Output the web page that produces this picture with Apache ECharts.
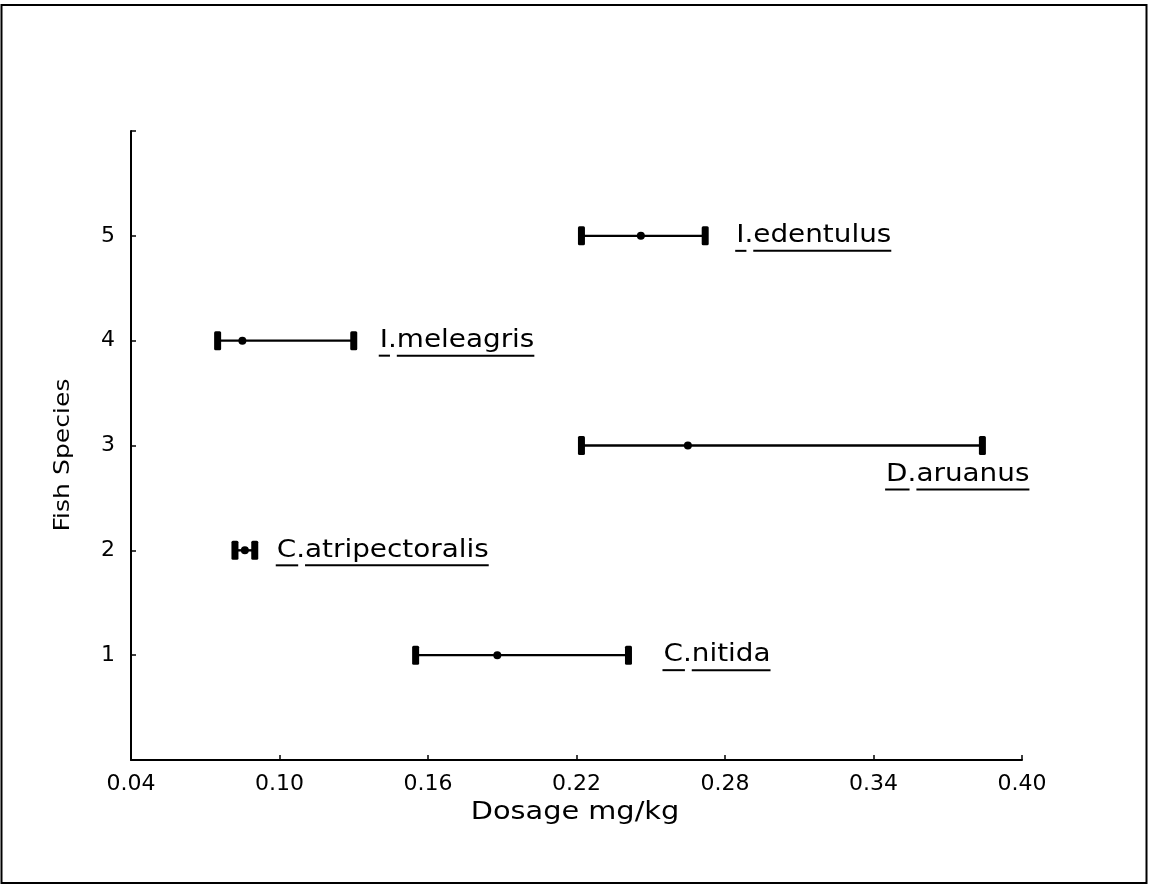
<!DOCTYPE html>
<html>
<head>
<meta charset="utf-8">
<script src="https://cdn.jsdelivr.net/npm/echarts@6/dist/echarts.min.js"></script>
<style>
  html, body { margin: 0; padding: 0; background: #fff; }
  #chart { width: 1149px; height: 889px; }
</style>
</head>
<body>
<div id="chart"></div>
<script>
// Effective dosage ranges per fish species (low, mean, high) in mg/kg
const species    = ['C.nitida', 'C.atripectoralis', 'D.aruanus', 'I.meleagris', 'I.edentulus'];
const speciesIdx = [1, 2, 3, 4, 5];
const lowDose    = [0.155, 0.082, 0.222, 0.075, 0.222];
const meanDose   = [0.188, 0.086, 0.265, 0.085, 0.246];
const highDose   = [0.241, 0.090, 0.384, 0.130, 0.272];
const xTicks     = [0.04, 0.10, 0.16, 0.22, 0.28, 0.34, 0.40];
const yTicks     = [1, 2, 3, 4, 5];

// Where each species name sits relative to the high end of its bar (pixels)
const labelLayout = {
  'C.nitida':         { dx: 35, dy: 0,  anchor: 'start' },
  'C.atripectoralis': { dx: 22, dy: 0,  anchor: 'start' },
  'D.aruanus':        { dx: 47, dy: 29, anchor: 'end' },
  'I.meleagris':      { dx: 26, dy: 0,  anchor: 'start' },
  'I.edentulus':      { dx: 31, dy: 0,  anchor: 'start' }
};

const FONT_FAMILY = '"DejaVu Sans", sans-serif';
const LABEL_FONT = '24px ' + FONT_FAMILY;
const LABEL_SX = 1.16;

const measureCtx = document.createElement('canvas').getContext('2d');
function textWidth(str, font) {
  measureCtx.font = font;
  return measureCtx.measureText(str).width;
}

const seriesData = species.map((name, i) => [speciesIdx[i], lowDose[i], meanDose[i], highDose[i]]);

function renderItem(params, api) {
  const y = api.value(0);
  const lo = api.coord([api.value(1), y]);
  const mid = api.coord([api.value(2), y]);
  const hi = api.coord([api.value(3), y]);
  const name = species[params.dataIndex];
  const lay = labelLayout[name];

  const capW = 7, capH = 19;
  const children = [
    { type: 'line', shape: { x1: lo[0], y1: lo[1], x2: hi[0], y2: hi[1] },
      style: { stroke: '#000', lineWidth: 2.4 } },
    { type: 'rect', shape: { x: lo[0] - capW / 2, y: lo[1] - capH / 2, width: capW, height: capH, r: 1.5 },
      style: { fill: '#000' } },
    { type: 'rect', shape: { x: hi[0] - capW / 2, y: hi[1] - capH / 2, width: capW, height: capH, r: 1.5 },
      style: { fill: '#000' } },
    { type: 'circle', shape: { cx: mid[0], cy: mid[1], r: 4 },
      style: { fill: '#000' } }
  ];

  // Species name with the genus initial and the epithet underlined separately
  const wFull = textWidth(name, LABEL_FONT) * LABEL_SX;
  const wInit = textWidth(name.slice(0, 1), LABEL_FONT) * LABEL_SX;
  const wPre = textWidth(name.slice(0, 2), LABEL_FONT) * LABEL_SX;
  const tx = lay.anchor === 'start' ? hi[0] + lay.dx : hi[0] + lay.dx - wFull;
  const ty = hi[1] + lay.dy;
  children.push({
    type: 'text', x: tx, y: ty, scaleX: LABEL_SX, scaleY: 1,
    style: { text: name, x: 0, y: 0, font: LABEL_FONT, fill: '#000',
             align: 'left', verticalAlign: 'middle', textAlign: 'left', textVerticalAlign: 'middle' }
  });
  const uy = ty + 15;
  children.push(
    { type: 'line', shape: { x1: tx - 1, y1: uy, x2: tx + wInit + 2, y2: uy },
      style: { stroke: '#000', lineWidth: 2 } },
    { type: 'line', shape: { x1: tx + wPre, y1: uy, x2: tx + wFull, y2: uy },
      style: { stroke: '#000', lineWidth: 2 } }
  );
  return { type: 'group', children: children };
}

const chart = echarts.init(document.getElementById('chart'), null, { renderer: 'canvas' });

chart.setOption({
  backgroundColor: '#fff',
  animation: false,
  textStyle: { fontFamily: FONT_FAMILY, color: '#000' },
  grid: { left: 131, right: 127, top: 131, bottom: 129, containLabel: false },
  xAxis: {
    type: 'value',
    min: xTicks[0],
    max: xTicks[xTicks.length - 1],
    splitLine: { show: false },
    axisLine: { show: true, lineStyle: { color: '#000', width: 2 } },
    axisTick: { show: true, inside: true, length: 5, customValues: xTicks,
                lineStyle: { color: '#000', width: 1.5 } },
    axisLabel: { customValues: xTicks, margin: 13, fontSize: 22, color: '#000',
                 fontFamily: FONT_FAMILY, formatter: v => v.toFixed(2) }
  },
  yAxis: {
    type: 'value',
    min: 0,
    max: 6,
    interval: 1,
    splitLine: { show: false },
    axisLine: { show: true, lineStyle: { color: '#000', width: 2 } },
    axisTick: { show: true, inside: true, length: 5, lineStyle: { color: '#000', width: 1.5 } },
    axisLabel: { margin: 16, fontSize: 22, color: '#000', fontFamily: FONT_FAMILY,
                 formatter: v => (yTicks.indexOf(v) >= 0 ? String(v) : '') }
  },
  graphic: [
    { type: 'rect', shape: { x: 1.5, y: 5, width: 1145, height: 878 },
      style: { fill: 'none', stroke: '#000', lineWidth: 2 }, silent: true, z: 0 },
    { type: 'text', x: 575, y: 813, scaleX: 1.2, originX: 0, originY: 0,
      style: { text: 'Dosage mg/kg', font: '24px ' + FONT_FAMILY, fill: '#000',
               align: 'center', verticalAlign: 'middle' } },
    { type: 'text', x: 63, y: 455, rotation: Math.PI / 2, scaleX: 1.14,
      style: { text: 'Fish Species', font: '22px ' + FONT_FAMILY, fill: '#000',
               align: 'center', verticalAlign: 'middle' } }
  ],
  series: [{
    type: 'custom',
    renderItem: renderItem,
    encode: { x: [1, 2, 3], y: 0 },
    data: seriesData,
    clip: false
  }]
});
</script>
</body>
</html>
